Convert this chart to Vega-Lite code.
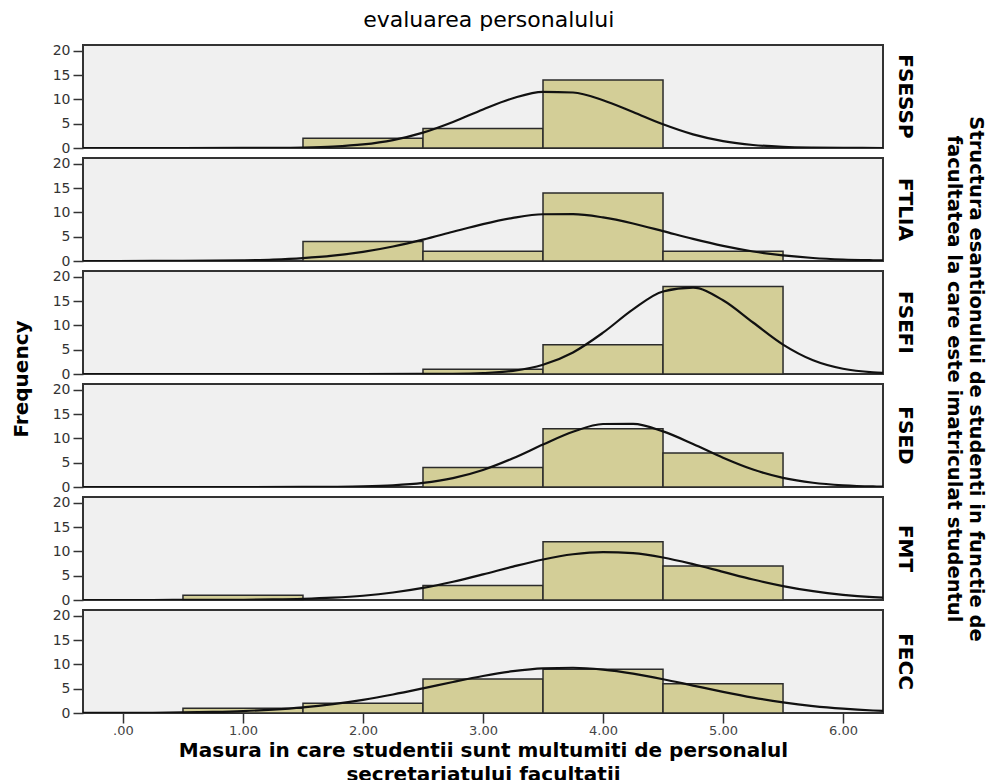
{
  "$schema": "https://vega.github.io/schema/vega-lite/v6.json",
  "background": "white",
  "padding": {"left": 12, "top": 8, "right": 0, "bottom": 0},
  "title": {"text": "evaluarea personalului", "font": "DejaVu Sans", "fontSize": 22, "fontWeight": "normal", "color": "#000", "anchor": "middle", "offset": 12, "dx": -10},
  "datasets": {
    "main": [
      {"f":"FSESSP","k":"b","v":1.5,"v2":2.5,"n":2},
      {"f":"FSESSP","k":"b","v":2.5,"v2":3.5,"n":4},
      {"f":"FSESSP","k":"b","v":3.5,"v2":4.5,"n":14},
      {"f":"FTLIA","k":"b","v":1.5,"v2":2.5,"n":4},
      {"f":"FTLIA","k":"b","v":2.5,"v2":3.5,"n":2},
      {"f":"FTLIA","k":"b","v":3.5,"v2":4.5,"n":14},
      {"f":"FTLIA","k":"b","v":4.5,"v2":5.5,"n":2},
      {"f":"FSEFI","k":"b","v":2.5,"v2":3.5,"n":1},
      {"f":"FSEFI","k":"b","v":3.5,"v2":4.5,"n":6},
      {"f":"FSEFI","k":"b","v":4.5,"v2":5.5,"n":18},
      {"f":"FSED","k":"b","v":2.5,"v2":3.5,"n":4},
      {"f":"FSED","k":"b","v":3.5,"v2":4.5,"n":12},
      {"f":"FSED","k":"b","v":4.5,"v2":5.5,"n":7},
      {"f":"FMT","k":"b","v":0.5,"v2":1.5,"n":1},
      {"f":"FMT","k":"b","v":2.5,"v2":3.5,"n":3},
      {"f":"FMT","k":"b","v":3.5,"v2":4.5,"n":12},
      {"f":"FMT","k":"b","v":4.5,"v2":5.5,"n":7},
      {"f":"FECC","k":"b","v":0.5,"v2":1.5,"n":1},
      {"f":"FECC","k":"b","v":1.5,"v2":2.5,"n":2},
      {"f":"FECC","k":"b","v":2.5,"v2":3.5,"n":7},
      {"f":"FECC","k":"b","v":3.5,"v2":4.5,"n":9},
      {"f":"FECC","k":"b","v":4.5,"v2":5.5,"n":6},

      {"f":"FSESSP","k":"c","v":-0.333,"n":0},{"f":"FSESSP","k":"c","v":0.5,"n":0},{"f":"FSESSP","k":"c","v":1.0,"n":0.01},{"f":"FSESSP","k":"c","v":1.25,"n":0.03},{"f":"FSESSP","k":"c","v":1.5,"n":0.10},{"f":"FSESSP","k":"c","v":1.75,"n":0.29},{"f":"FSESSP","k":"c","v":2.0,"n":0.73},{"f":"FSESSP","k":"c","v":2.25,"n":1.63},{"f":"FSESSP","k":"c","v":2.5,"n":3.16},{"f":"FSESSP","k":"c","v":2.75,"n":5.36},{"f":"FSESSP","k":"c","v":3.0,"n":7.93},{"f":"FSESSP","k":"c","v":3.25,"n":10.25},{"f":"FSESSP","k":"c","v":3.5,"n":11.57},{"f":"FSESSP","k":"c","v":3.75,"n":11.42},{"f":"FSESSP","k":"c","v":4.0,"n":9.84},{"f":"FSESSP","k":"c","v":4.25,"n":7.41},{"f":"FSESSP","k":"c","v":4.5,"n":4.87},{"f":"FSESSP","k":"c","v":4.75,"n":2.80},{"f":"FSESSP","k":"c","v":5.0,"n":1.41},{"f":"FSESSP","k":"c","v":5.25,"n":0.62},{"f":"FSESSP","k":"c","v":5.5,"n":0.24},{"f":"FSESSP","k":"c","v":5.75,"n":0.08},{"f":"FSESSP","k":"c","v":6.0,"n":0.02},{"f":"FSESSP","k":"c","v":6.333,"n":0},

      {"f":"FTLIA","k":"c","v":-0.333,"n":0},{"f":"FTLIA","k":"c","v":0.25,"n":0.01},{"f":"FTLIA","k":"c","v":0.5,"n":0.02},{"f":"FTLIA","k":"c","v":0.75,"n":0.06},{"f":"FTLIA","k":"c","v":1.0,"n":0.14},{"f":"FTLIA","k":"c","v":1.25,"n":0.29},{"f":"FTLIA","k":"c","v":1.5,"n":0.59},{"f":"FTLIA","k":"c","v":1.75,"n":1.09},{"f":"FTLIA","k":"c","v":2.0,"n":1.88},{"f":"FTLIA","k":"c","v":2.25,"n":2.99},{"f":"FTLIA","k":"c","v":2.5,"n":4.40},{"f":"FTLIA","k":"c","v":2.75,"n":6.01},{"f":"FTLIA","k":"c","v":3.0,"n":7.59},{"f":"FTLIA","k":"c","v":3.25,"n":8.88},{"f":"FTLIA","k":"c","v":3.5,"n":9.62},{"f":"FTLIA","k":"c","v":3.75,"n":9.65},{"f":"FTLIA","k":"c","v":4.0,"n":8.97},{"f":"FTLIA","k":"c","v":4.25,"n":7.72},{"f":"FTLIA","k":"c","v":4.5,"n":6.15},{"f":"FTLIA","k":"c","v":4.75,"n":4.54},{"f":"FTLIA","k":"c","v":5.0,"n":3.10},{"f":"FTLIA","k":"c","v":5.25,"n":1.96},{"f":"FTLIA","k":"c","v":5.5,"n":1.15},{"f":"FTLIA","k":"c","v":5.75,"n":0.62},{"f":"FTLIA","k":"c","v":6.0,"n":0.31},{"f":"FTLIA","k":"c","v":6.25,"n":0.15},{"f":"FTLIA","k":"c","v":6.333,"n":0.11},

      {"f":"FSEFI","k":"c","v":-0.333,"n":0},{"f":"FSEFI","k":"c","v":2.0,"n":0},{"f":"FSEFI","k":"c","v":2.5,"n":0.01},{"f":"FSEFI","k":"c","v":2.75,"n":0.04},{"f":"FSEFI","k":"c","v":3.0,"n":0.19},{"f":"FSEFI","k":"c","v":3.25,"n":0.66},{"f":"FSEFI","k":"c","v":3.5,"n":1.90},{"f":"FSEFI","k":"c","v":3.75,"n":4.44},{"f":"FSEFI","k":"c","v":4.0,"n":8.50},{"f":"FSEFI","k":"c","v":4.25,"n":13.29},{"f":"FSEFI","k":"c","v":4.5,"n":16.99},{"f":"FSEFI","k":"c","v":4.75,"n":17.76},{"f":"FSEFI","k":"c","v":5.0,"n":15.18},{"f":"FSEFI","k":"c","v":5.25,"n":10.60},{"f":"FSEFI","k":"c","v":5.5,"n":6.06},{"f":"FSEFI","k":"c","v":5.75,"n":2.83},{"f":"FSEFI","k":"c","v":6.0,"n":1.08},{"f":"FSEFI","k":"c","v":6.25,"n":0.34},{"f":"FSEFI","k":"c","v":6.333,"n":0.22},

      {"f":"FSED","k":"c","v":-0.333,"n":0},{"f":"FSED","k":"c","v":1.0,"n":0},{"f":"FSED","k":"c","v":1.5,"n":0.01},{"f":"FSED","k":"c","v":1.75,"n":0.04},{"f":"FSED","k":"c","v":2.0,"n":0.12},{"f":"FSED","k":"c","v":2.25,"n":0.34},{"f":"FSED","k":"c","v":2.5,"n":0.84},{"f":"FSED","k":"c","v":2.75,"n":1.83},{"f":"FSED","k":"c","v":3.0,"n":3.51},{"f":"FSED","k":"c","v":3.25,"n":5.91},{"f":"FSED","k":"c","v":3.5,"n":8.74},{"f":"FSED","k":"c","v":3.75,"n":11.36},{"f":"FSED","k":"c","v":4.0,"n":12.97},{"f":"FSED","k":"c","v":4.25,"n":13.00},{"f":"FSED","k":"c","v":4.5,"n":11.45},{"f":"FSED","k":"c","v":4.75,"n":8.86},{"f":"FSED","k":"c","v":5.0,"n":6.02},{"f":"FSED","k":"c","v":5.25,"n":3.59},{"f":"FSED","k":"c","v":5.5,"n":1.88},{"f":"FSED","k":"c","v":5.75,"n":0.87},{"f":"FSED","k":"c","v":6.0,"n":0.35},{"f":"FSED","k":"c","v":6.25,"n":0.12},{"f":"FSED","k":"c","v":6.333,"n":0.09},

      {"f":"FMT","k":"c","v":-0.333,"n":0},{"f":"FMT","k":"c","v":0.25,"n":0},{"f":"FMT","k":"c","v":0.5,"n":0.01},{"f":"FMT","k":"c","v":0.75,"n":0.02},{"f":"FMT","k":"c","v":1.0,"n":0.05},{"f":"FMT","k":"c","v":1.25,"n":0.11},{"f":"FMT","k":"c","v":1.5,"n":0.23},{"f":"FMT","k":"c","v":1.75,"n":0.47},{"f":"FMT","k":"c","v":2.0,"n":0.88},{"f":"FMT","k":"c","v":2.25,"n":1.54},{"f":"FMT","k":"c","v":2.5,"n":2.49},{"f":"FMT","k":"c","v":2.75,"n":3.76},{"f":"FMT","k":"c","v":3.0,"n":5.27},{"f":"FMT","k":"c","v":3.25,"n":6.88},{"f":"FMT","k":"c","v":3.5,"n":8.34},{"f":"FMT","k":"c","v":3.75,"n":9.41},{"f":"FMT","k":"c","v":4.0,"n":9.87},{"f":"FMT","k":"c","v":4.25,"n":9.63},{"f":"FMT","k":"c","v":4.5,"n":8.74},{"f":"FMT","k":"c","v":4.75,"n":7.37},{"f":"FMT","k":"c","v":5.0,"n":5.79},{"f":"FMT","k":"c","v":5.25,"n":4.22},{"f":"FMT","k":"c","v":5.5,"n":2.87},{"f":"FMT","k":"c","v":5.75,"n":1.81},{"f":"FMT","k":"c","v":6.0,"n":1.06},{"f":"FMT","k":"c","v":6.25,"n":0.58},{"f":"FMT","k":"c","v":6.333,"n":0.47},

      {"f":"FECC","k":"c","v":-0.333,"n":0.01},{"f":"FECC","k":"c","v":0.0,"n":0.02},{"f":"FECC","k":"c","v":0.25,"n":0.05},{"f":"FECC","k":"c","v":0.5,"n":0.11},{"f":"FECC","k":"c","v":0.75,"n":0.22},{"f":"FECC","k":"c","v":1.0,"n":0.40},{"f":"FECC","k":"c","v":1.25,"n":0.71},{"f":"FECC","k":"c","v":1.5,"n":1.17},{"f":"FECC","k":"c","v":1.75,"n":1.83},{"f":"FECC","k":"c","v":2.0,"n":2.71},{"f":"FECC","k":"c","v":2.25,"n":3.81},{"f":"FECC","k":"c","v":2.5,"n":5.07},{"f":"FECC","k":"c","v":2.75,"n":6.39},{"f":"FECC","k":"c","v":3.0,"n":7.62},{"f":"FECC","k":"c","v":3.25,"n":8.61},{"f":"FECC","k":"c","v":3.5,"n":9.20},{"f":"FECC","k":"c","v":3.75,"n":9.31},{"f":"FECC","k":"c","v":4.0,"n":8.92},{"f":"FECC","k":"c","v":4.25,"n":8.09},{"f":"FECC","k":"c","v":4.5,"n":6.95},{"f":"FECC","k":"c","v":4.75,"n":5.65},{"f":"FECC","k":"c","v":5.0,"n":4.35},{"f":"FECC","k":"c","v":5.25,"n":3.17},{"f":"FECC","k":"c","v":5.5,"n":2.19},{"f":"FECC","k":"c","v":5.75,"n":1.43},{"f":"FECC","k":"c","v":6.0,"n":0.89},{"f":"FECC","k":"c","v":6.25,"n":0.52},{"f":"FECC","k":"c","v":6.333,"n":0.43}
    ]
  },
  "spacing": 20,
  "hconcat": [
    {
      "data": {"values": [{"t": "Frequency"}]},
      "width": 20,
      "height": 668,
      "view": {"stroke": null, "fill": null},
      "mark": {"type": "text", "angle": 270, "font": "DejaVu Sans", "fontSize": 20, "fontWeight": "bold", "color": "#000", "align": "center", "baseline": "middle"},
      "encoding": {"text": {"field": "t", "type": "nominal"}}
    },
    {
      "data": {"name": "main"},
      "bounds": "flush",
      "facet": {
        "row": {
          "field": "f", "type": "nominal",
          "sort": ["FSESSP", "FTLIA", "FSEFI", "FSED", "FMT", "FECC"],
          "title": ["Structura esantionului de studenti in functie de", "facultatea la care este imatriculat studentul"],
          "header": {
            "labelOrient": "right", "labelAngle": 90, "labelFont": "DejaVu Sans", "labelFontSize": 20, "labelFontWeight": "bold", "labelColor": "#000", "labelPadding": 12,
            "titleOrient": "right", "titleAngle": 90, "titleFont": "DejaVu Sans", "titleFontSize": 19.5, "titleFontWeight": "bold", "titleColor": "#000", "titleLineHeight": 22, "titlePadding": 18
          }
        }
      },
      "spacing": 10,
      "spec": {
        "width": 800,
        "height": 103,
        "encoding": {
          "x": {"field": "v", "type": "quantitative",
            "scale": {"domain": [-0.333, 6.333], "nice": false, "zero": false, "padding": 0},
            "axis": {"title": ["Masura in care studentii sunt multumiti de personalul", "secretariatului facultatii"], "values": [0, 1, 2, 3, 4, 5, 6], "labelExpr": "datum.value == 0 ? '.00' : format(datum.value, '.2f')", "domain": false, "grid": false, "tickSize": 10, "tickColor": "#333", "tickWidth": 1.5, "labelFont": "DejaVu Sans", "labelFontSize": 13, "labelColor": "#444", "labelPadding": 1, "titleFont": "DejaVu Sans", "titleFontSize": 20, "titleFontWeight": "bold", "titleColor": "#000", "titleLineHeight": 24, "titlePadding": 3}},
          "y": {"field": "n", "type": "quantitative",
            "scale": {"domain": [0, 21.2], "nice": false, "padding": 0},
            "axis": {"title": null, "values": [0, 5, 10, 15, 20], "domain": false, "grid": false, "tickSize": 10, "tickColor": "#333", "tickWidth": 1.5, "labelFont": "DejaVu Sans", "labelFontSize": 14, "labelColor": "#333", "labelPadding": 3}}
        },
        "layer": [
          {
            "transform": [{"filter": "datum.k == 'b'"}],
            "mark": {"type": "bar", "orient": "vertical", "fill": "#d3ce97", "stroke": "#2b2b2b", "strokeWidth": 1.5},
            "encoding": {"x2": {"field": "v2"}, "y2": {"datum": 0}}
          },
          {
            "transform": [{"filter": "datum.k == 'c'"}],
            "mark": {"type": "line", "color": "#111", "strokeWidth": 2.2, "interpolate": "monotone", "clip": true},
            "encoding": {"order": {"field": "v", "type": "quantitative"}}
          }
        ]
      }
    }
  ],
  "config": {
    "view": {"fill": "#f0f0f0", "stroke": "#333", "strokeWidth": 2},
    "font": "DejaVu Sans"
  }
}
